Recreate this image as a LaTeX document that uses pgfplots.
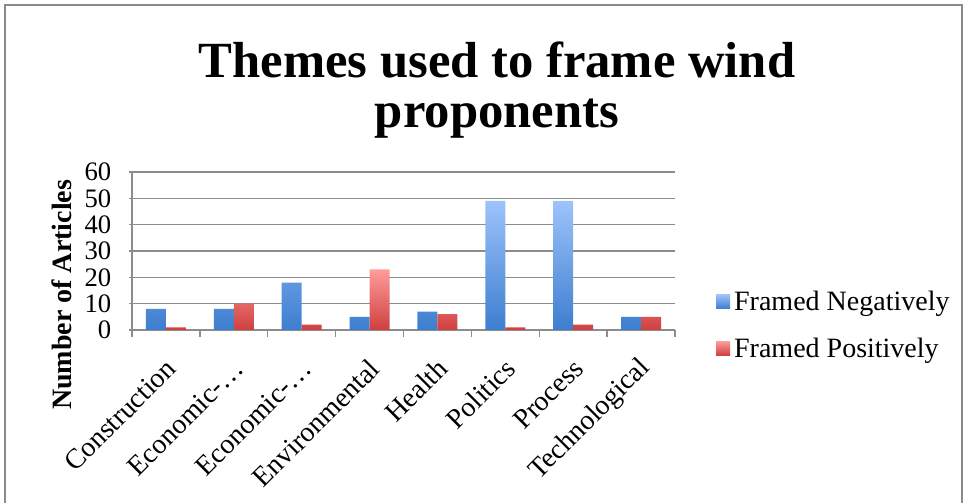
\documentclass[border=0pt]{standalone}
\usepackage{pgfplots}
\pgfplotsset{compat=1.18}
\usepackage{fontspec}
\setmainfont{Liberation Serif}

\definecolor{gridgray}{HTML}{8C8C8C}
\definecolor{frame}{HTML}{8A8A8A}
\definecolor{negtop}{HTML}{9DC3FB}
\definecolor{negbot}{HTML}{3D7ECF}
\definecolor{postop}{HTML}{FF9C9C}
\definecolor{posbot}{HTML}{CF3F3F}

% counts of articles per theme
\pgfplotstableread{
idx neg pos
0   8   1
1   8   10
2   18  2
3   5   23
4   7   6
5   49  1
6   49  2
7   5   5
}\themes

\begin{document}
\begin{tikzpicture}[x=0.75pt,y=0.75pt]
\useasboundingbox (0,0) rectangle (965,503);
% outer chart frame
\draw[frame, line width=1.1pt] (5,0) -- (5,498) -- (962,498) -- (962,0);

% title
\node[font=\bfseries\fontsize{38}{38}\selectfont, anchor=base] at (497,425) {Themes used to frame wind};
\node[font=\bfseries\fontsize{38}{38}\selectfont, anchor=base] at (497,375) {proponents};

\begin{axis}[
  at={(99pt,129.75pt)}, anchor=south west,
  scale only axis,
  width=407.25pt, height=118.5pt,
  xmin=-0.5, xmax=7.5,
  ymin=0, ymax=60,
  ytick={0,10,...,60},
  xtick={0,...,7},
  xticklabels={Construction,Economic-\dots,Economic-\dots,Environmental,Health,Politics,Process,Technological},
  minor xtick={-0.5,0.5,...,7.5},
  major x tick style={draw=none},
  minor x tick style={draw=gridgray, line width=1.1pt},
  major y tick style={draw=gridgray, line width=1.1pt},
  tick align=outside,
  major tick length=4pt,
  minor tick length=5pt,
  axis x line=bottom, axis y line=left,
  axis line style={-, draw=gridgray, line width=1.1pt},
  ymajorgrids,
  grid style={draw=gridgray, line width=1.1pt},
  /pgf/number format/assume math mode=true,
  yticklabel style={font=\fontsize{20}{20}\selectfont, xshift=-10pt},
  xticklabel style={font=\fontsize{21}{21}\selectfont, rotate=45, anchor=east, yshift=-18pt, xshift=-9pt},
  ylabel={\bfseries Number of Articles},
  ylabel style={font=\fontsize{21}{21}\selectfont, at={(-0.129,0.222)}, anchor=center},
  ybar, bar width=0.295,
  legend style={at={(1.068,0.03)}, anchor=west, draw=none, fill=none,
    font=\fontsize{21}{21}\selectfont, row sep=13pt,
    nodes={inner sep=3pt}},
  legend cell align=left,
  legend image code/.code={\draw[#1, draw=none] (0pt,-5pt) rectangle (10.5pt,5.5pt);},
]
\addplot[draw=none, top color=negtop, bottom color=negbot, bar shift=-0.1475] table[x=idx, y=neg] {\themes};
\addplot[draw=none, top color=postop, bottom color=posbot, bar shift=0.1475] table[x=idx, y=pos] {\themes};
\legend{Framed Negatively, Framed Positively}
\end{axis}
\end{tikzpicture}
\end{document}
